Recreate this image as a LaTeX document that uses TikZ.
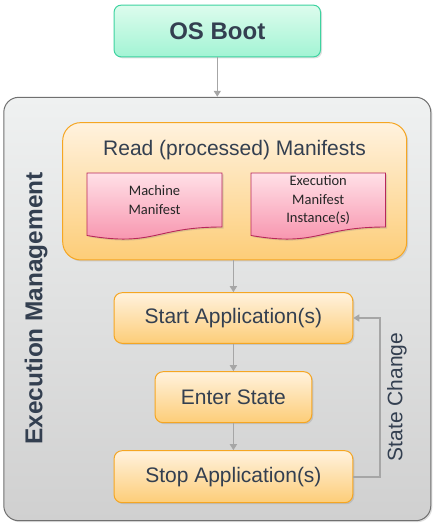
\documentclass[tikz,border=0pt]{standalone}
\usepackage{fontspec}
\setmainfont{Liberation Sans}
\newfontfamily\docfont{Carlito}
\usetikzlibrary{arrows.meta,shadows}

\definecolor{txt}{HTML}{333F50}
\definecolor{arrgray}{HTML}{A6A6A6}
\definecolor{bootline}{HTML}{3DD3A0}
\definecolor{boottop}{HTML}{DDFCED}
\definecolor{bootbot}{HTML}{A2F4D4}
\definecolor{emline}{HTML}{707070}
\definecolor{emtop}{HTML}{EFF1F1}
\definecolor{embot}{HTML}{D0D0D0}
\definecolor{boxline}{HTML}{F5A623}
\definecolor{boxtop}{HTML}{FFF2DE}
\definecolor{boxbot}{HTML}{FDCD78}
\definecolor{docline}{HTML}{B8275A}
\definecolor{doctop}{HTML}{FFE0E7}
\definecolor{docbot}{HTML}{F78EA9}

\begin{document}
\begin{tikzpicture}[x=1pt, y=-1pt,
  shad/.style={drop shadow={opacity=.25, shadow xshift=1.5pt, shadow yshift=-1.5pt}},
  box/.style={rounded corners=8pt, draw=boxline, line width=1pt, top color=boxtop, bottom color=boxbot,
    inner sep=0pt, text=txt, font=\fontsize{21}{25}\selectfont, shad},
  doc/.style={draw=docline, line width=.9pt, top color=doctop, bottom color=docbot, shad},
  doctext/.style={align=center, text=black!85, font=\docfont\fontsize{14.5}{18.5}\selectfont},
  arr/.style={draw=arrgray, line width=1.6pt, -{Triangle[width=7pt,length=6pt]}}]
  \useasboundingbox (0,0) rectangle (436,529);

  \node[rounded corners=15pt, draw=emline, line width=1pt, top color=emtop, bottom color=embot,
    minimum width=427pt, minimum height=423.4pt, shad] (em) at (217.3,309) {};
  \node[rotate=90, text=txt, font=\fontsize{24.4}{28}\selectfont\bfseries] (emlbl) at (36,308.5) {Execution Management};

  \node[rounded corners=7pt, draw=bootline, line width=1pt, top color=boottop, bottom color=bootbot,
    minimum width=206.4pt, minimum height=51.7pt, text=txt, font=\fontsize{24}{28}\selectfont\bfseries, shad] (boot) at (217.3,31) {OS Boot};

  \node[box, rounded corners=18pt, minimum width=344pt, minimum height=137.3pt] (rd) at (234.7,191.3) {};
  \node[text=txt, font=\fontsize{21}{25}\selectfont] (rdlbl) at (234.5,150) {Read (processed) Manifests};

  % manifest documents
  \path[doc] (87,173) -- (222,173) -- (222,227) .. controls (154.5,227) and (154.5,247) .. (87,235.5) -- cycle;
  \path[doc] (251,173) -- (385.5,173) -- (385.5,227) .. controls (318,227) and (318,247) .. (251,235.5) -- cycle;
  \node[doctext] (mm) at (154.5,200) {Machine\\Manifest};
  \node[doctext] (xm) at (318.2,200) {Execution\\Manifest\\Instance(s)};

  \node[box, minimum width=238.7pt, minimum height=50.6pt] (start) at (233.4,318) {Start Application(s)};
  \node[box, minimum width=156.7pt, minimum height=51pt] (enter) at (233.4,397.2) {Enter State};
  \node[box, minimum width=238.7pt, minimum height=52pt] (stop) at (233.4,476.7) {Stop Application(s)};
  \node[rotate=90, text=txt, font=\fontsize{21}{25}\selectfont] (chg) at (397,397) {State Change};

  \draw[arr] (boot) -- (em);
  \draw[arr] (rd.south -| start) -- (start);
  \draw[arr] (start) -- (enter);
  \draw[arr] (enter) -- (stop);
  \draw[arr] (stop.east) -- ++(27,0) |- (start.east);
\end{tikzpicture}
\end{document}
